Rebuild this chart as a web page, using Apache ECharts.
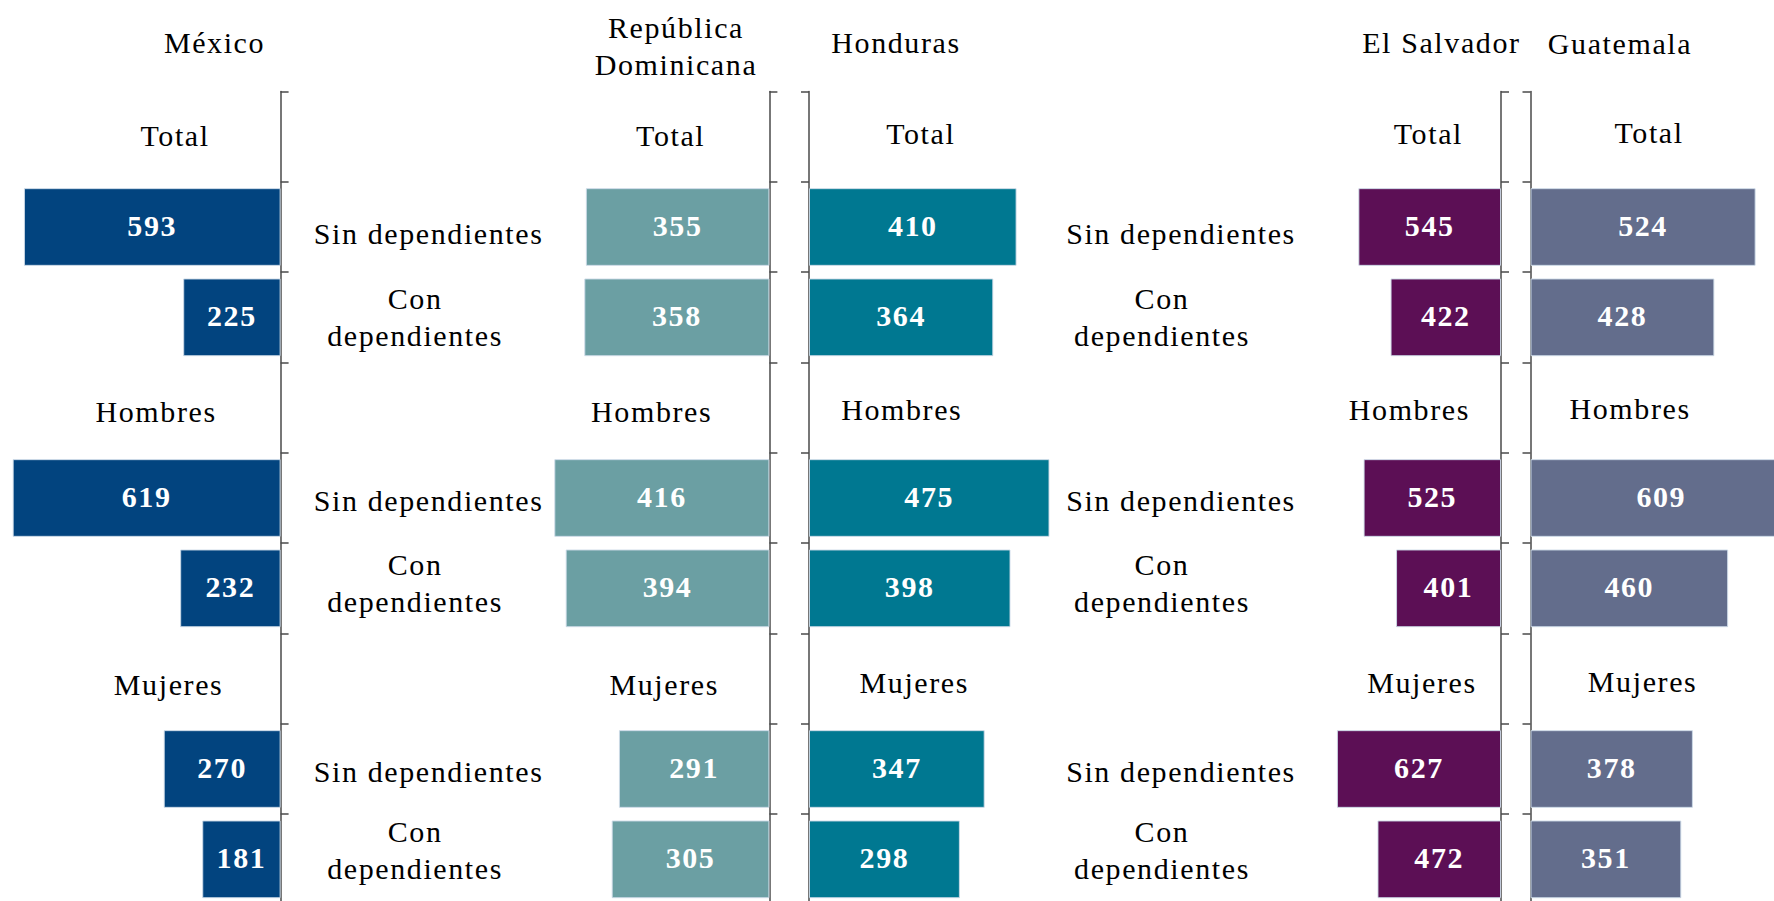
<!DOCTYPE html>
<html>
<head>
<meta charset="utf-8">
<script src="https://cdn.jsdelivr.net/npm/echarts@6/dist/echarts.min.js"></script>
<style>
  html, body { margin: 0; padding: 0; background: #ffffff; }
  #chart { width: 1774px; height: 901px; }
  #chart text { letter-spacing: 1.6px; }
</style>
</head>
<body>
<div id="chart"></div>
<script>
// ---- data ----
const countries = ['México', 'República\nDominicana', 'Honduras', 'El Salvador', 'Guatemala'];
const groups = ['Total', 'Hombres', 'Mujeres'];
const subgroups = ['Sin dependientes', 'Con dependientes'];
// values per group: [Sin, Con] for Total, Hombres, Mujeres
const mexico      = [593, 225, 619, 232, 270, 181];
const dominicana  = [355, 358, 416, 394, 291, 305];
const honduras    = [410, 364, 475, 398, 347, 298];
const elSalvador  = [545, 422, 525, 401, 627, 472];
const guatemala   = [524, 428, 609, 460, 378, 351];
const seriesValues = [mexico, dominicana, honduras, elSalvador, guatemala];

// ---- categories (header row + sub rows per group) ----
const categories = [];
groups.forEach(g => {
  categories.push(g);
  subgroups.forEach(s => categories.push(g + '|' + s));
});
function expand(vals) {
  const out = [];
  let k = 0;
  groups.forEach(() => {
    out.push('-');
    subgroups.forEach(() => { out.push(vals[k++]); });
  });
  return out;
}

// ---- layout / style ----
const TOP = 91.5, H = 813;
const FONT = 'Liberation Serif';
const panels = [
  { axis: 280.6,  ppu: 0.4328, dir: -1, xmax: 640, color: '#02447f', hdr: 124.5, dy: 0 },
  { axis: 769.4,  ppu: 0.517,  dir: -1, xmax: 700, color: '#6b9fa3', hdr: 117.7, dy: 0 },
  { axis: 809,    ppu: 0.5063, dir: 1,  xmax: 700, color: '#007891', hdr: 92.8,  dy: -2 },
  { axis: 1501,   ppu: 0.2617, dir: -1, xmax: 700, color: '#5c0f55', hdr: 91.6,  dy: -2.5 },
  { axis: 1530.5, ppu: 0.4296, dir: 1,  xmax: 566, color: '#636d8c', hdr: 99.6,  dy: -3.5 }
];
const titlePos = [[214.5, 42.4], [676, 46], [896, 42], [1441.4, 42], [1620, 43]];

const grids = [], xAxes = [], yAxes = [], series = [];
const baseText = { fontFamily: FONT, fontSize: 30, color: '#000' };
function vpad(shift, left, right) {
  return shift >= 0 ? [2 * shift, right || 0, 0, left || 0] : [0, right || 0, -2 * shift, left || 0];
}
function hdrRich(dy) {
  return {
    Total:   Object.assign({}, baseText, { padding: vpad(-1 + dy, 38) }),
    Hombres: Object.assign({}, baseText, { padding: vpad(4 + dy, 0) }),
    Mujeres: Object.assign({}, baseText, { padding: vpad(6 + dy, 25) })
  };
}
function headerFormatter(v) {
  return v.indexOf('|') >= 0 ? '' : '{' + v + '|' + v + '}';
}
function subFormatter(v, idx) {
  if (v.indexOf('|') < 0) return '';
  const g = Math.floor(idx / 3);
  const s = v.split('|')[1];
  if (s === subgroups[0]) return '{s' + g + '|' + s + '}';
  return '{c' + g + '|' + s.replace(' ', '\n') + '}';
}
function subRich(conShift) {
  const sShift = [6, 2.5, 2];       // vertical nudges of "Sin" rows
  const cShift = [0, -5.5, -9.5];   // vertical nudges of "Con" rows
  const r = {};
  for (let g = 0; g < 3; g++) {
    r['s' + g] = Object.assign({}, baseText, { lineHeight: 37, padding: vpad(sShift[g], 0) });
    r['c' + g] = Object.assign({}, baseText, { lineHeight: 37, align: 'center',
      padding: vpad(cShift[g], 0, conShift) });
  }
  return r;
}

panels.forEach((p, i) => {
  const width = p.xmax * p.ppu;
  const left = p.dir < 0 ? p.axis - width : p.axis;
  grids.push({ left: left, top: TOP, width: width, height: H, containLabel: false,
    outerBoundsMode: 'none' });
  xAxes.push({ type: 'value', gridIndex: i, min: 0, max: p.xmax, inverse: p.dir < 0, show: false });
  const yIdx = yAxes.length;
  yAxes.push({
    type: 'category', gridIndex: i, data: categories, inverse: true,
    position: p.dir < 0 ? 'right' : 'left',
    axisLine: { show: true, lineStyle: { color: '#4a4a4a', width: 1.5 } },
    axisTick: { show: true, length: 8, lineStyle: { color: '#4a4a4a', width: 1.5 } },
    splitLine: { show: false },
    axisLabel: {
      show: true, inside: true, interval: 0, margin: p.hdr, align: 'center',
      formatter: headerFormatter, rich: hdrRich(p.dy)
    }
  });
  series.push({
    type: 'bar', xAxisIndex: i, yAxisIndex: yIdx,
    data: expand(seriesValues[i]),
    barWidth: '86%',
    clip: false,
    itemStyle: { color: p.color, borderColor: 'rgba(205,218,232,0.9)', borderWidth: 1 },
    label: {
      show: true, position: 'inside', color: '#ffffff', offset: [0, -2],
      fontFamily: FONT, fontWeight: 'bold', fontSize: 30
    },
    silent: true
  });
});

// sub-row labels: right of México axis, and between Honduras and El Salvador
yAxes.push({
  type: 'category', gridIndex: 0, data: categories, inverse: true, position: 'right',
  axisLine: { show: false }, axisTick: { show: false },
  axisLabel: { show: true, inside: false, interval: 0, margin: 148, align: 'center',
    formatter: subFormatter, rich: subRich(27) }
});
yAxes.push({
  type: 'category', gridIndex: 2, data: categories, inverse: true, position: 'left',
  axisLine: { show: false }, axisTick: { show: false },
  axisLabel: { show: true, inside: true, interval: 0, margin: 372, align: 'center',
    formatter: subFormatter, rich: subRich(38) }
});

const graphics = countries.map((c, i) => ({
  type: 'text', x: titlePos[i][0], y: titlePos[i][1], silent: true,
  style: { text: c, textAlign: 'center', textVerticalAlign: 'middle',
    fontFamily: FONT, fontSize: 30, fill: '#000', lineHeight: 37 }
}));

const chart = echarts.init(document.getElementById('chart'), null, { renderer: 'svg' });
chart.setOption({
  animation: false,
  backgroundColor: '#ffffff',
  grid: grids, xAxis: xAxes, yAxis: yAxes, series: series,
  graphic: graphics
});
</script>
</body>
</html>
